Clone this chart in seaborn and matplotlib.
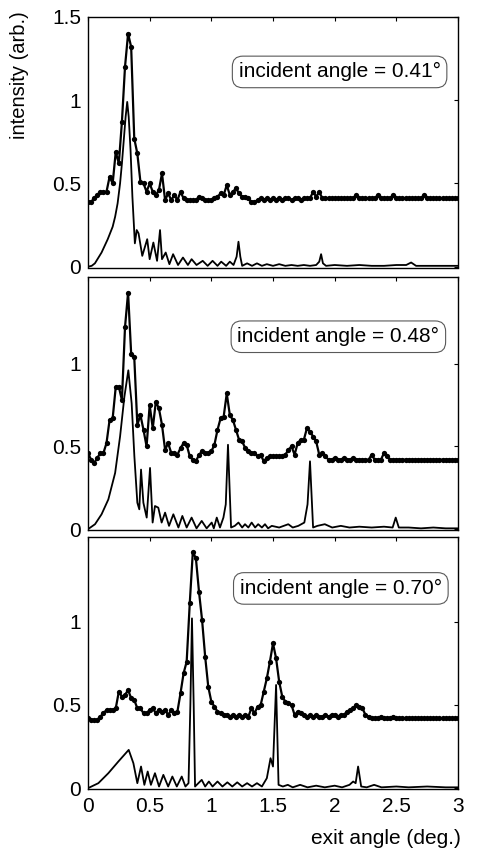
import numpy as np
import pandas as pd
import matplotlib
matplotlib.use("Agg")
import matplotlib.pyplot as plt
import seaborn as sns

# ---------------- data ----------------
exit_angle = np.round(np.arange(0, 121) * 0.025, 4)   # measurement grid (deg)

exp_041 = [0.39, 0.39, 0.41, 0.43, 0.45, 0.45, 0.45, 0.54, 0.50, 0.69,
           0.62, 0.87, 1.20, 1.40, 1.32, 0.77, 0.68, 0.51, 0.50, 0.45,
           0.50, 0.45, 0.43, 0.46, 0.56, 0.40, 0.44, 0.40, 0.43, 0.40,
           0.45, 0.41, 0.40, 0.40, 0.40, 0.40, 0.42, 0.41, 0.40, 0.40,
           0.40, 0.41, 0.42, 0.44, 0.43, 0.49, 0.43, 0.45, 0.47, 0.44,
           0.42, 0.42, 0.41, 0.39, 0.39, 0.40, 0.41, 0.40, 0.41, 0.40,
           0.41, 0.40, 0.41, 0.40, 0.41, 0.41, 0.40, 0.41, 0.41, 0.40,
           0.41, 0.41, 0.41, 0.45, 0.42, 0.45, 0.41, 0.41, 0.41, 0.41,
           0.41, 0.41, 0.41, 0.41, 0.41, 0.41, 0.41, 0.43, 0.41, 0.41,
           0.41, 0.41, 0.41, 0.41, 0.43, 0.41, 0.41, 0.41, 0.41, 0.43,
           0.41, 0.41, 0.41, 0.41, 0.41, 0.41, 0.41, 0.41, 0.41, 0.43,
           0.41, 0.41, 0.41, 0.41, 0.41, 0.41, 0.41, 0.41, 0.41, 0.41,
           0.41]

exp_048 = [0.46, 0.42, 0.40, 0.43, 0.46, 0.46, 0.52, 0.66, 0.67, 0.86,
           0.86, 0.78, 1.22, 1.43, 1.06, 1.04, 0.63, 0.69, 0.60, 0.50,
           0.75, 0.61, 0.77, 0.73, 0.63, 0.48, 0.52, 0.46, 0.46, 0.45,
           0.49, 0.52, 0.51, 0.44, 0.42, 0.41, 0.45, 0.47, 0.46, 0.46,
           0.47, 0.51, 0.60, 0.67, 0.68, 0.82, 0.69, 0.66, 0.60, 0.54,
           0.53, 0.49, 0.47, 0.46, 0.46, 0.44, 0.45, 0.41, 0.43, 0.44,
           0.44, 0.44, 0.44, 0.44, 0.45, 0.48, 0.50, 0.45, 0.52, 0.54,
           0.54, 0.61, 0.59, 0.56, 0.53, 0.45, 0.46, 0.44, 0.42, 0.42,
           0.43, 0.42, 0.42, 0.43, 0.42, 0.42, 0.43, 0.42, 0.42, 0.42,
           0.42, 0.42, 0.45, 0.42, 0.42, 0.42, 0.46, 0.44, 0.42, 0.42,
           0.42, 0.42, 0.42, 0.42, 0.42, 0.42, 0.42, 0.42, 0.42, 0.42,
           0.42, 0.42, 0.42, 0.42, 0.42, 0.42, 0.42, 0.42, 0.42, 0.42,
           0.42]

exp_070 = [0.42, 0.41, 0.41, 0.41, 0.43, 0.45, 0.47, 0.47, 0.47, 0.48,
           0.58, 0.55, 0.56, 0.59, 0.54, 0.53, 0.48, 0.48, 0.45, 0.45,
           0.47, 0.48, 0.45, 0.47, 0.46, 0.47, 0.44, 0.47, 0.45, 0.46,
           0.57, 0.69, 0.76, 1.11, 1.42, 1.38, 1.18, 1.01, 0.79, 0.61,
           0.52, 0.49, 0.46, 0.45, 0.44, 0.44, 0.43, 0.44, 0.43, 0.44,
           0.43, 0.44, 0.43, 0.48, 0.45, 0.49, 0.50, 0.58, 0.66, 0.76,
           0.87, 0.78, 0.64, 0.55, 0.52, 0.51, 0.50, 0.44, 0.46, 0.45,
           0.44, 0.43, 0.44, 0.43, 0.44, 0.43, 0.43, 0.44, 0.43, 0.44,
           0.44, 0.43, 0.44, 0.44, 0.46, 0.47, 0.48, 0.50, 0.49, 0.48,
           0.44, 0.43, 0.42, 0.42, 0.42, 0.43, 0.42, 0.42, 0.42, 0.43,
           0.42, 0.42, 0.42, 0.42, 0.42, 0.42, 0.42, 0.42, 0.42, 0.42,
           0.42, 0.42, 0.42, 0.42, 0.42, 0.42, 0.42, 0.42, 0.42, 0.42,
           0.42]

sim_041_x = [0.0, 0.03, 0.056, 0.11, 0.16, 0.20, 0.22, 0.24, 0.26, 0.275, 0.29, 0.305,
             0.318, 0.33, 0.345, 0.36, 0.38,
             0.395, 0.41, 0.44, 0.48, 0.50, 0.53, 0.56, 0.584, 0.60, 0.63, 0.66, 0.69,
             0.73, 0.77, 0.81, 0.84, 0.88, 0.93, 0.97, 1.01, 1.05, 1.08, 1.12, 1.15,
             1.18, 1.205, 1.22, 1.235, 1.25, 1.29, 1.33, 1.37, 1.41, 1.45, 1.50, 1.55,
             1.60, 1.65, 1.70, 1.75, 1.80, 1.85, 1.875, 1.89, 1.905, 1.93, 2.00, 2.10,
             2.20, 2.30, 2.40, 2.50, 2.58, 2.62, 2.66, 2.80, 3.00]
sim_041_y = [0.0, 0.005, 0.02, 0.085, 0.165, 0.24, 0.30, 0.38, 0.50, 0.62, 0.76, 0.90,
             0.99, 0.90, 0.70, 0.42, 0.14,
             0.22, 0.20, 0.065, 0.165, 0.045, 0.145, 0.035, 0.22, 0.045, 0.085, 0.015, 0.075,
             0.01, 0.055, 0.01, 0.045, 0.01, 0.035, 0.005, 0.035, 0.005, 0.03, 0.005, 0.03,
             0.01, 0.06, 0.15, 0.06, 0.005, 0.02, 0.005, 0.02, 0.005, 0.015, 0.005, 0.015,
             0.005, 0.01, 0.005, 0.01, 0.005, 0.01, 0.03, 0.075, 0.02, 0.005, 0.01, 0.005,
             0.01, 0.005, 0.005, 0.01, 0.01, 0.025, 0.005, 0.005, 0.005]

sim_048_x = [0.0, 0.057, 0.11, 0.165, 0.22, 0.26, 0.295, 0.327, 0.354, 0.376, 0.40, 0.416,
             0.43, 0.449, 0.476, 0.503, 0.524, 0.543, 0.57, 0.597, 0.625, 0.657, 0.692,
             0.733, 0.765, 0.80, 0.84, 0.88, 0.922, 0.962, 1.003, 1.02, 1.044, 1.07, 1.098,
             1.117, 1.135, 1.16, 1.19, 1.22, 1.25, 1.273, 1.30, 1.327, 1.355, 1.38, 1.41,
             1.435, 1.46, 1.49, 1.55, 1.624, 1.66, 1.705, 1.754, 1.78, 1.80, 1.825, 1.86,
             1.92, 1.98, 2.05, 2.12, 2.20, 2.30, 2.40, 2.47, 2.495, 2.52, 2.60, 2.70, 2.80,
             2.90, 3.00]
sim_048_y = [0.0, 0.03, 0.09, 0.18, 0.34, 0.56, 0.80, 0.96, 0.76, 0.44, 0.16, 0.12,
             0.36, 0.16, 0.07, 0.37, 0.04, 0.14, 0.13, 0.04, 0.10, 0.02, 0.09,
             0.01, 0.08, 0.01, 0.07, 0.005, 0.05, 0.005, 0.04, 0.005, 0.07, 0.01, 0.07,
             0.15, 0.51, 0.01, 0.02, 0.04, 0.01, 0.03, 0.01, 0.04, 0.01, 0.03, 0.01,
             0.03, 0.005, 0.02, 0.01, 0.03, 0.01, 0.02, 0.04, 0.15, 0.41, 0.01, 0.02,
             0.03, 0.01, 0.02, 0.01, 0.015, 0.01, 0.015, 0.01, 0.07, 0.01, 0.01, 0.005, 0.01,
             0.005, 0.005]

sim_070_x = [0.0, 0.084, 0.165, 0.246, 0.33, 0.368, 0.40, 0.43, 0.457, 0.484, 0.51, 0.543,
             0.576, 0.611, 0.65, 0.684, 0.72, 0.76, 0.79, 0.815, 0.83, 0.843, 0.857, 0.868,
             0.895, 0.922, 0.95, 0.98, 1.01, 1.05, 1.09, 1.13, 1.17, 1.21, 1.25, 1.29,
             1.33, 1.37, 1.41, 1.45, 1.48, 1.50, 1.525, 1.545, 1.58, 1.62, 1.66, 1.72,
             1.78, 1.85, 1.92, 2.00, 2.06, 2.12, 2.15, 2.17, 2.19, 2.215, 2.26, 2.32,
             2.38, 2.50, 2.60, 2.75, 2.90, 3.00]
sim_070_y = [0.0, 0.03, 0.09, 0.16, 0.23, 0.15, 0.03, 0.13, 0.02, 0.10, 0.02, 0.09,
             0.01, 0.08, 0.01, 0.07, 0.01, 0.07, 0.01, 0.03, 0.50, 1.02, 0.50, 0.01,
             0.03, 0.05, 0.01, 0.04, 0.01, 0.04, 0.01, 0.035, 0.01, 0.035, 0.01, 0.03,
             0.01, 0.03, 0.01, 0.06, 0.18, 0.13, 0.62, 0.02, 0.01, 0.02, 0.005, 0.02,
             0.005, 0.015, 0.005, 0.015, 0.005, 0.02, 0.04, 0.03, 0.13, 0.01, 0.005, 0.02,
             0.005, 0.01, 0.005, 0.01, 0.005, 0.005]

panel_labels = ["incident angle = 0.41°", "incident angle = 0.48°", "incident angle = 0.70°"]
x_ticks = [0, 0.5, 1, 1.5, 2, 2.5, 3]
x_tick_labels = ["0", "0.5", "1", "1.5", "2", "2.5", "3"]

# ---------------- style ----------------
sns.set_style("white")
plt.rcParams['font.family'] = ['Liberation Sans', 'DejaVu Sans']

W, H = 481, 852
fig = plt.figure(figsize=(W / 100, H / 100), dpi=100)

left, right = 88, 458
# (top_px, bottom_px, ymax)
panels = [(17, 267.5, 1.5), (277, 530, 1.524), (537, 789, 1.509)]
exp_sets = [exp_041, exp_048, exp_070]
sim_sets = [(sim_041_x, sim_041_y), (sim_048_x, sim_048_y), (sim_070_x, sim_070_y)]
label_pos = [(2.04, 1.17), (2.03, 1.163), (2.05, 1.20)]

for i, (top, bot, ymax) in enumerate(panels):
    ax = fig.add_axes([left / W, 1 - bot / H, (right - left) / W, (bot - top) / H])
    df_exp = pd.DataFrame({"x": exit_angle, "y": exp_sets[i]})
    sns.lineplot(data=df_exp, x="x", y="y", ax=ax, color="black", linewidth=1.6,
                 marker="o", markersize=3.8, markeredgewidth=0, estimator=None, sort=False)
    sx, sy = sim_sets[i]
    df_sim = pd.DataFrame({"x": sx, "y": sy})
    sns.lineplot(data=df_sim, x="x", y="y", ax=ax, color="black", linewidth=1.3,
                 estimator=None, sort=False)
    ax.set_xlim(0, 3)
    ax.set_ylim(-0.005, ymax)
    ax.set_xlabel("")
    ax.set_ylabel("")
    if i == 0:
        ax.set_yticks([0, 0.5, 1, 1.5])
        ax.set_yticklabels(["0", "0.5", "1", "1.5"])
    else:
        ax.set_yticks([0, 0.5, 1])
        ax.set_yticklabels(["0", "0.5", "1"])
    ax.set_xticks(x_ticks)
    if i == 2:
        ax.set_xticklabels(x_tick_labels)
    else:
        ax.set_xticklabels([])
    ax.tick_params(axis="both", direction="in", length=3, width=0.8,
                   top=True, right=True, labelsize=15, colors="black")
    ax.tick_params(axis="y", pad=5)
    ax.tick_params(axis="x", pad=6)
    for s in ax.spines.values():
        s.set_visible(True)
        s.set_color("black")
        s.set_linewidth(1.0)
    lx, ly = label_pos[i]
    ax.text(lx, ly, panel_labels[i], ha="center", va="center", fontsize=15,
            color="black",
            bbox=dict(boxstyle="round,pad=0.3,rounding_size=0.5", fc="white",
                      ec="0.35", lw=0.8))

fig.text(20 / W, 1 - 75 / H, "intensity (arb.)", rotation=90, ha="center",
         va="center", fontsize=14.5, color="black")
fig.text(461 / W, 1 - 838 / H, "exit angle (deg.)", ha="right", va="center",
         fontsize=15, color="black")

fig.savefig("out.png", dpi=100, facecolor="white")
